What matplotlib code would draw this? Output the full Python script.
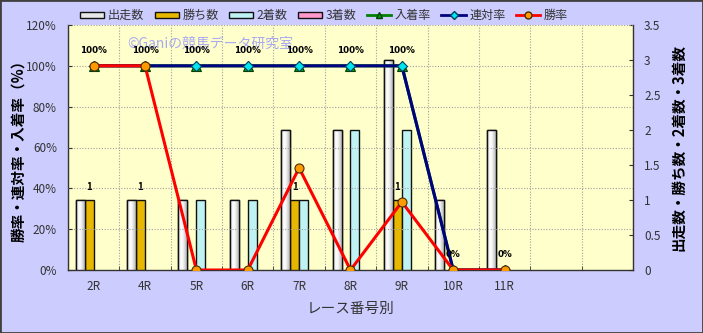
import numpy as np
import matplotlib
matplotlib.use("Agg")
import matplotlib.pyplot as plt
from matplotlib.lines import Line2D
from matplotlib.patches import Patch, Rectangle

plt.rcParams['font.family'] = ['Noto Sans CJK JP', 'DejaVu Sans']

# Race categories (two trailing empty slots on the axis)
races = ["2R", "4R", "5R", "6R", "7R", "8R", "9R", "10R", "11R"]
n_slots = 11

starts = [1, 1, 1, 1, 2, 2, 3, 1, 2]       # 出走数
wins = [1, 1, 0, 0, 1, 0, 1, 0, 0]         # 勝ち数
seconds = [0, 0, 1, 1, 1, 2, 2, 0, 0]      # 2着数
thirds = [0, 0, 0, 0, 0, 0, 0, 0, 0]       # 3着数

place_rate = [1.0, 1.0, 1.0, 1.0, 1.0, 1.0, 1.0, 0.0, 0.0]        # 入着率
quinella_rate = [1.0, 1.0, 1.0, 1.0, 1.0, 1.0, 1.0, 0.0, 0.0]     # 連対率
win_rate = [1.0, 1.0, 0.0, 0.0, 0.5, 0.0, 1 / 3, 0.0, 0.0]        # 勝率

left_ticks = [0, 0.2, 0.4, 0.6, 0.8, 1.0, 1.2]
left_labels = ["0%", "20%", "40%", "60%", "80%", "100%", "120%"]
right_ticks = [0, 0.5, 1, 1.5, 2, 2.5, 3, 3.5]
right_labels = ["0", "0.5", "1", "1.5", "2", "2.5", "3", "3.5"]

fig_bg = "#CCCCFF"
plot_bg = "#FFFFCC"
tick_color = "#333333"

fig = plt.figure(figsize=(7.03, 3.33), dpi=100, facecolor=fig_bg)
ax = fig.add_axes([68 / 703, 63 / 333, 565 / 703, 245 / 333])
ax.set_facecolor(plot_bg)
ax2 = ax.twinx()
ax2.patch.set_visible(False)

x = np.arange(len(races))
w = 0.175

# Count bars on the right-hand scale
bar_specs = [
    (starts, "#F4F4F4", -1.5),
    (wins, "#E8B800", -0.5),
    (seconds, "#BFF3F3", 0.5),
    (thirds, "#FF99CC", 1.5),
]
bar_sets = []
for vals, col, off in bar_specs:
    bs = ax.bar(x + off * w, vals, width=w, color=col, edgecolor="#111111",
                linewidth=1.0, zorder=3)
    for r in bs:
        if r.get_height() <= 0:
            r.set_visible(False)
    bar_sets.append(bs)

# Cylinder shading for the 出走数 bars
grad = np.array([[0.78, 0.97, 1.0, 0.95, 0.85, 0.76]])
for r in bar_sets[0]:
    if r.get_height() <= 0:
        continue
    x0, y0 = r.get_x(), r.get_y()
    im = ax.imshow(grad, cmap="gray", vmin=0, vmax=1, aspect="auto",
                   extent=(x0, x0 + r.get_width(), y0, y0 + r.get_height()),
                   zorder=3.5, interpolation="bicubic")
    im.set_clip_path(r)
    ax.add_patch(Rectangle((x0, y0), r.get_width(), r.get_height(), fill=False,
                           edgecolor="#111111", linewidth=1.0, zorder=3.6))

for xi, v in zip(x, wins):
    if v > 0:
        ax.text(xi - 0.5 * w, v + 0.12, f"{v}", ha="center", va="bottom",
                fontsize=7, fontweight="bold", color="black", zorder=6)

ax.set_xlim(-0.5, n_slots - 0.5)
ax.set_ylim(0, 3.5)
ax.set_yticks(right_ticks)
ax.set_yticklabels(right_labels)
ax.set_xticks(x)
ax.set_xticklabels(races)
ax.set_xticks(np.arange(-0.5, n_slots, 1.0), minor=True)
ax.tick_params(axis="x", which="major", length=0, labelsize=8.5, colors=tick_color, pad=7)
ax.tick_params(axis="x", which="minor", length=3, direction="in", color="#333333")
ax.grid(axis="x", which="minor", linestyle=(0, (1, 1.5)), color="#A0A0A0", linewidth=0.8, zorder=1)
ax.set_axisbelow(True)
ax.spines["top"].set_visible(False)
for s in ["left", "right", "bottom"]:
    ax.spines[s].set_color("#333333")
    ax.spines[s].set_linewidth(1.0)

# Rate lines on the left-hand scale
ax2.set_ylim(0, 1.2)
ax2.set_yticks(left_ticks)
ax2.set_yticklabels(left_labels)
ax2.grid(axis="y", linestyle=(0, (1, 1.5)), color="#A0A0A0", linewidth=0.8, zorder=0)
for s in ax2.spines.values():
    s.set_visible(False)

# Put counts on the right, rates on the left
ax.yaxis.tick_right()
ax.yaxis.set_label_position("right")
ax2.yaxis.tick_left()
ax2.yaxis.set_label_position("left")
ax.tick_params(axis="y", direction="in", length=3, labelsize=8.5, colors=tick_color,
               pad=8, right=True, left=False, labelright=True, labelleft=False)
ax2.tick_params(axis="y", direction="in", length=3, labelsize=8.5, colors=tick_color,
                pad=8, left=True, right=False, labelleft=True, labelright=False)

ax2.plot(x, place_rate, color="#008000", lw=2.2, marker="^", ms=7,
         mfc="#00A000", mec="#004000", mew=0.8, zorder=4)
ax2.plot(x, quinella_rate, color="#000080", lw=2.2, marker="D", ms=5.5,
         mfc="#00E5EE", mec="#004060", mew=0.8, zorder=5)
ax2.plot(x, win_rate, color="#FF0000", lw=2.2, marker="o", ms=6.5,
         mfc="#FF9900", mec="#4A2A00", mew=0.8, zorder=6)

for xi, v in zip(x, place_rate):
    ax2.text(xi, v + 0.055, f"{v * 100:.0f}%", ha="center", va="bottom",
             fontsize=6.3, fontweight="bold", color="black", zorder=7,
             family="DejaVu Sans")

ax2.text(0.252, 0.925, "©Ganiの競馬データ研究室", transform=ax2.transAxes,
         ha="center", va="center", fontsize=10, color="#8C8CFF", alpha=0.75, zorder=2)

ax2.set_ylabel("勝率・連対率・入着率（%）", fontsize=10.5, fontweight="bold",
               color="black", labelpad=0)
ax.set_ylabel("出走数・勝ち数・2着数・3着数", fontsize=10.5, fontweight="bold",
              color="black", labelpad=7, rotation=90)
ax.set_xlabel("レース番号別", fontsize=10.5, color="#333333", labelpad=7)

handles = [
    Patch(facecolor="#E8E8E8", edgecolor="#111111", label="出走数"),
    Patch(facecolor="#E8B800", edgecolor="#111111", label="勝ち数"),
    Patch(facecolor="#BFF3F3", edgecolor="#111111", label="2着数"),
    Patch(facecolor="#FF99CC", edgecolor="#111111", label="3着数"),
    Line2D([], [], color="#008000", lw=2, marker="^", ms=5, mfc="#00A000", mec="#004000", label="入着率"),
    Line2D([], [], color="#000080", lw=2, marker="D", ms=4, mfc="#00E5EE", mec="#004060", label="連対率"),
    Line2D([], [], color="#FF0000", lw=2, marker="o", ms=5, mfc="#FF9900", mec="#4A2A00", label="勝率"),
]
fig.legend(handles=handles, loc="center", bbox_to_anchor=(0.461, 0.953), ncol=7,
           frameon=False, fontsize=8.7, handlelength=2.0, handleheight=0.45,
           handletextpad=0.3, columnspacing=0.85, labelcolor="#333333")

fig.add_artist(Rectangle((0, 0), 1, 1, transform=fig.transFigure, fill=False,
                         edgecolor="#404040", linewidth=2))

fig.savefig("out.png", dpi=100, facecolor=fig_bg)
